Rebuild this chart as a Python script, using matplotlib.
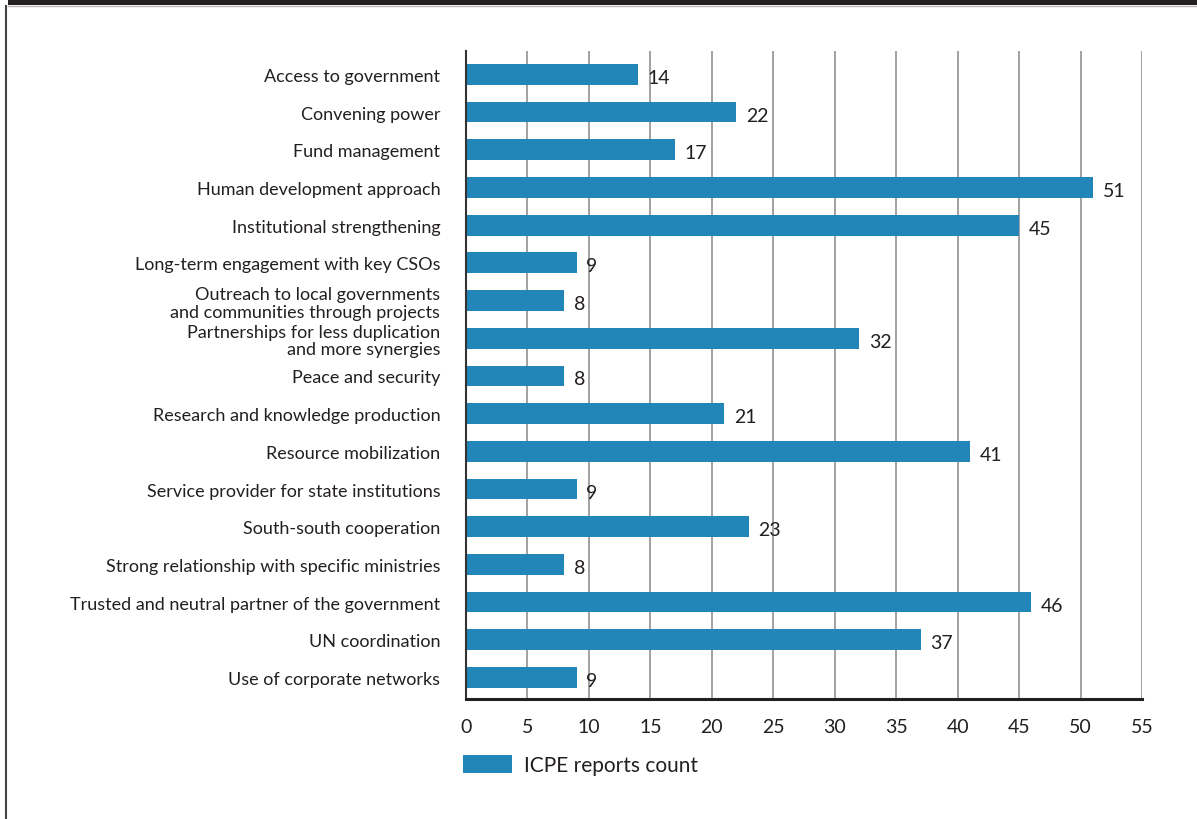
import matplotlib
matplotlib.use("Agg")
import matplotlib.pyplot as plt
from matplotlib.patches import Rectangle
from matplotlib.lines import Line2D

plt.rcParams['font.family'] = ['Lato', 'DejaVu Sans']

categories = [
    "Access to government",
    "Convening power",
    "Fund management",
    "Human development approach",
    "Institutional strengthening",
    "Long-term engagement with key CSOs",
    "Outreach to local governments\nand communities through projects",
    "Partnerships for less duplication\nand more synergies",
    "Peace and security",
    "Research and knowledge production",
    "Resource mobilization",
    "Service provider for state institutions",
    "South-south cooperation",
    "Strong relationship with specific ministries",
    "Trusted and neutral partner of the government",
    "UN coordination",
    "Use of corporate networks",
]
counts = [14, 22, 17, 51, 45, 9, 8, 32, 8, 21, 41, 9, 23, 8, 46, 37, 9]
x_ticks = list(range(0, 60, 5))
series_name = "ICPE reports count"

BAR = "#2386b8"
INK = "#231f20"

W, H = 1197, 820
fig = plt.figure(figsize=(W / 100, H / 100), dpi=100)

# frame: dark band on top, thin rule on the left
fig.patches.append(Rectangle((8 / W, 1 - 6 / H), 1, 6 / H, transform=fig.transFigure,
                             facecolor=INK, edgecolor="none", zorder=0))
fig.lines.append(Line2D([8 / W, 1], [1 - 7 / H, 1 - 7 / H], transform=fig.transFigure,
                        color="#b8b8b8", lw=1.0))
fig.lines.append(Line2D([6 / W, 6 / W], [0, 1 - 7 / H], transform=fig.transFigure,
                        color="#444444", lw=1.5))

left, right, top, bottom = 466, 1142, 52, 700
ax = fig.add_axes([left / W, 1 - bottom / H, (right - left) / W, (bottom - top) / H])

y = list(range(len(categories)))
ax.barh(y, counts, height=0.55, color=BAR, zorder=2, label=series_name)

# value labels just past the end of each bar
for yi, v in zip(y, counts):
    ax.text(v + 0.8, yi + 0.08, str(v), va="center", ha="left", fontsize=14, color=INK)

ax.set_ylim(16.57, -0.62)
ax.set_xlim(0, 55)
ax.set_xticks(x_ticks)
ax.set_yticks(y)
ax.set_yticklabels(categories, fontsize=13, color=INK, linespacing=1.12)
ax.tick_params(axis="y", length=0, pad=18.5)
ax.tick_params(axis="x", length=0, pad=14, labelsize=14, labelcolor=INK)

ax.grid(axis="x", color="#9a9a9a", lw=1.3, zorder=0)
ax.set_axisbelow(True)
for s in ("top", "right"):
    ax.spines[s].set_visible(False)
ax.spines["left"].set_color("#333333")
ax.spines["left"].set_linewidth(1.5)
ax.spines["bottom"].set_color(INK)
ax.spines["bottom"].set_linewidth(2.2)

fig.legend(handles=ax.get_legend_handles_labels()[0], labels=[series_name],
           loc="upper left", bbox_to_anchor=(463 / W, 1 - 756 / H),
           bbox_transform=fig.transFigure, frameon=False, borderpad=0,
           borderaxespad=0, fontsize=15, handlelength=2.35, handleheight=0.95,
           handletextpad=0.6, labelcolor=INK)

fig.savefig("out.png", dpi=100)
